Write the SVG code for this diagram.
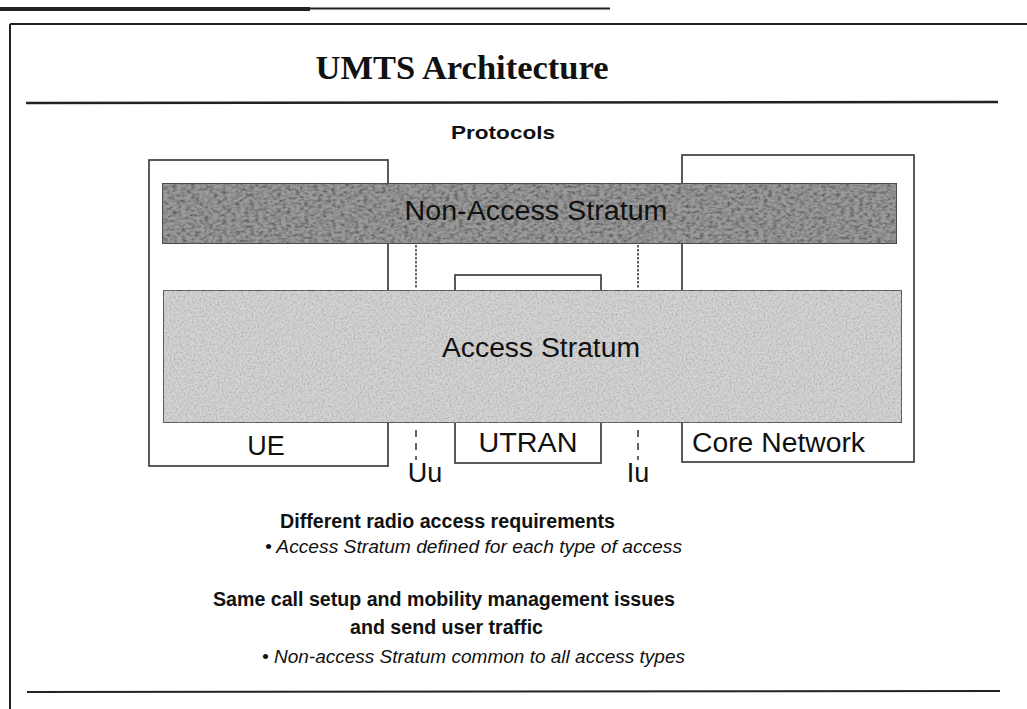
<svg xmlns="http://www.w3.org/2000/svg" width="1027" height="709" viewBox="0 0 1027 709">
<style>
.box{fill:#fff;stroke:#333;stroke-width:1.6}
.sans{font-family:"Liberation Sans",Arial,sans-serif;fill:#111}
.lbl{font-size:27px}
.bold{font-weight:bold}
.it{font-style:italic;font-size:18px}
.rule{stroke:#222;fill:none}
.conn{stroke:#333;stroke-width:1.5;fill:none}
</style>
<defs>
<filter id="grain" x="0" y="0" width="100%" height="100%">
<feTurbulence type="fractalNoise" baseFrequency="0.22 0.35" numOctaves="4" seed="4" result="t"/>
<feColorMatrix in="t" type="matrix" values="0 0 0 0 0.1 0 0 0 0 0.1 0 0 0 0 0.1 2.2 0 0 0 -0.85" result="n"/>
<feComposite in="n" in2="SourceGraphic" operator="in" result="m"/>
<feMerge><feMergeNode in="SourceGraphic"/><feMergeNode in="m"/></feMerge>
</filter>
<filter id="grain2" x="0" y="0" width="100%" height="100%">
<feTurbulence type="fractalNoise" baseFrequency="0.5" numOctaves="3" seed="9" result="t"/>
<feColorMatrix in="t" type="matrix" values="0 0 0 0 0.3 0 0 0 0 0.3 0 0 0 0 0.3 1.3 0 0 0 -0.5" result="n"/>
<feComposite in="n" in2="SourceGraphic" operator="in" result="m"/>
<feMerge><feMergeNode in="SourceGraphic"/><feMergeNode in="m"/></feMerge>
</filter>
</defs>
<rect width="1027" height="709" fill="#fff"/>
<!-- page frame -->
<line class="rule" x1="0" y1="9" x2="310" y2="9" stroke-width="4"/>
<line class="rule" x1="310" y1="8.5" x2="610" y2="8.5" stroke-width="2" stroke="#555"/>
<line class="rule" x1="10" y1="24" x2="1027" y2="24" stroke-width="2" stroke="#555"/>
<line class="rule" x1="10" y1="24" x2="10" y2="709" stroke-width="2" stroke="#444"/>
<text x="462" y="79" text-anchor="middle" font-family="'Liberation Serif','Times New Roman',serif" font-weight="bold" font-size="34" fill="#111" textLength="293" lengthAdjust="spacingAndGlyphs">UMTS Architecture</text>
<line class="rule" x1="26" y1="103" x2="998" y2="102" stroke-width="2.6"/>
<text class="sans bold" x="503" y="139" text-anchor="middle" font-size="19" textLength="104" lengthAdjust="spacingAndGlyphs">Protocols</text>

<!-- nodes -->
<g id="ue">
<rect class="box" x="149" y="160" width="239" height="306"/>
<text class="sans lbl" x="266" y="455" text-anchor="middle">UE</text>
</g>
<g id="core-network">
<rect class="box" x="682" y="155" width="232" height="307"/>
<text class="sans lbl" x="692" y="452" textLength="173" lengthAdjust="spacingAndGlyphs">Core Network</text>
</g>
<g id="utran">
<rect class="box" x="455" y="275" width="146" height="188"/>
<text class="sans lbl" x="528" y="452" text-anchor="middle" textLength="99" lengthAdjust="spacingAndGlyphs">UTRAN</text>
</g>
<g id="non-access-stratum">
<rect x="162" y="183" width="735" height="61" fill="#9a9a9a" stroke="#333" stroke-width="1.6" filter="url(#grain)"/>
<text class="sans lbl" x="536" y="220" text-anchor="middle" textLength="263" lengthAdjust="spacingAndGlyphs" fill="#1a1a1a">Non-Access Stratum</text>
</g>
<g id="access-stratum">
<rect x="163" y="290" width="739" height="133" fill="#d4d4d4" stroke="#333" stroke-width="1.6" filter="url(#grain2)"/>
<text class="sans lbl" x="541" y="357" text-anchor="middle" textLength="198" lengthAdjust="spacingAndGlyphs">Access Stratum</text>
</g>

<!-- connectors -->
<g id="connectors">
<line class="conn" x1="416" y1="245" x2="416" y2="289" stroke-dasharray="2.5,1.5" stroke-width="1.3"/>
<line class="conn" x1="416" y1="430" x2="416" y2="460" stroke-dasharray="7,6"/>
<line class="conn" x1="638" y1="245" x2="638" y2="289" stroke-dasharray="2.5,1.5" stroke-width="1.3"/>
<line class="conn" x1="638" y1="430" x2="638" y2="460" stroke-dasharray="7,6"/>
<text class="sans lbl" x="425" y="482" text-anchor="middle" font-size="25">Uu</text>
<text class="sans lbl" x="638" y="482" text-anchor="middle" font-size="25">Iu</text>
</g>

<!-- notes -->
<text class="sans bold" x="280" y="528" font-size="20" textLength="335" lengthAdjust="spacingAndGlyphs">Different radio access requirements</text>
<text class="sans it" x="265" y="553" textLength="417" lengthAdjust="spacingAndGlyphs">•  Access Stratum defined for each type of access</text>
<text class="sans bold" x="213" y="606" font-size="20" textLength="462" lengthAdjust="spacingAndGlyphs">Same call setup and mobility management issues</text>
<text class="sans bold" x="350" y="634" font-size="20" textLength="193" lengthAdjust="spacingAndGlyphs">and send user traffic</text>
<text class="sans it" x="262" y="663" textLength="423" lengthAdjust="spacingAndGlyphs">•  Non-access Stratum common to all access types</text>
<line class="rule" x1="27" y1="692" x2="1000" y2="691" stroke-width="2"/>
</svg>
